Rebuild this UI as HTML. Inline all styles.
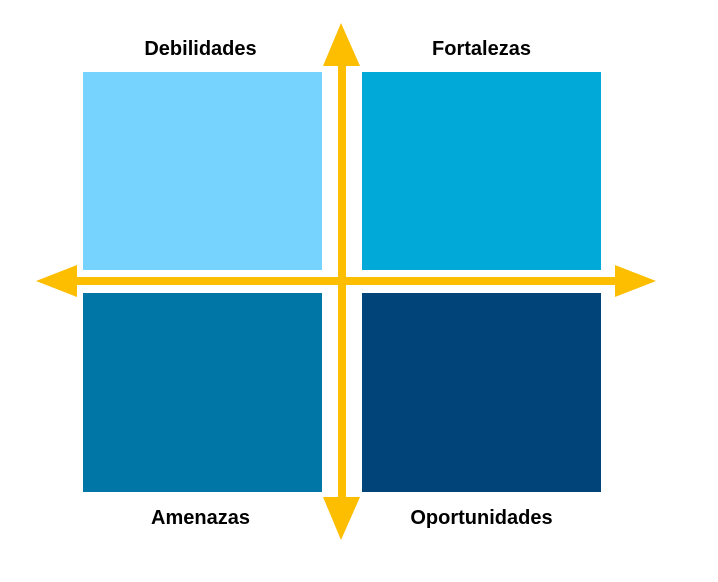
<!DOCTYPE html>
<html><head><style>
body{margin:0;width:718px;height:582px;background:#fff;position:relative;overflow:hidden;font-family:"Liberation Sans",sans-serif}
.b{position:absolute;width:239px;height:198px}
.t{position:absolute;font-weight:bold;font-size:20px;color:#000;text-align:center;width:239px}
</style></head><body>
<div class="b" style="left:83px;top:72px;background:#75d3fe"></div>
<div class="b" style="left:362px;top:72px;background:#00a9d7"></div>
<div class="b" style="left:83px;top:293px;background:#0076a6;height:199px"></div>
<div class="b" style="left:362px;top:293px;background:#004479;height:199px"></div>
<div class="t" style="left:81px;top:38px">Debilidades</div>
<div class="t" style="left:362px;top:38px">Fortalezas</div>
<div class="t" style="left:81px;top:507px">Amenazas</div>
<div class="t" style="left:362px;top:507px">Oportunidades</div>
<svg width="718" height="582" style="position:absolute;left:0;top:0">
<g fill="#fdbe00">
<rect x="338" y="60" width="8" height="444"/>
<rect x="72" y="277" width="550" height="8"/>
<polygon points="341,23 323,66 360,66"/>
<polygon points="341,540 323,497 360,497"/>
<polygon points="656,281 615,265 615,297"/>
<polygon points="36,281 77,265 77,297"/>
</g>
</svg>
</body></html>
